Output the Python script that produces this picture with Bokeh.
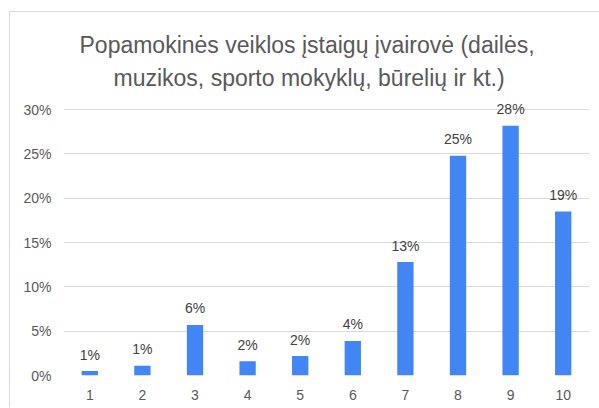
from bokeh.plotting import figure
from bokeh.models import ColumnDataSource, LabelSet, FixedTicker, PrintfTickFormatter, Title, Range1d
from bokeh.core.properties import value
from bokeh.embed import file_html
from bokeh.resources import INLINE

categories = [1, 2, 3, 4, 5, 6, 7, 8, 9, 10]
values = [0.5, 1.1, 5.7, 1.6, 2.2, 3.9, 12.8, 24.8, 28.2, 18.5]
labels = ["1%", "1%", "6%", "2%", "2%", "4%", "13%", "25%", "28%", "19%"]
y_ticks = [0, 5, 10, 15, 20, 25, 30]
title_lines = ["Popamokinės veiklos įstaigų įvairovė (dailės,",
               "muzikos, sporto mokyklų, būrelių ir kt.)"]

FONT = "Liberation Sans"
GRAY = "#595959"

src = ColumnDataSource(data=dict(x=categories, y=values, label=labels))

p = figure(width=590, height=396, output_backend="svg", toolbar_location=None,
           x_range=Range1d(0.5, 10.5), y_range=Range1d(0, 31.6),
           min_border_left=53, min_border_right=11, min_border_bottom=33, min_border_top=83)
p.styles = {"margin-left": "9px", "margin-top": "11px",
            "border-left": "1px solid #d9d9d9", "border-top": "1px solid #d9d9d9"}

p.vbar(x="x", top="y", width=0.31, source=src, fill_color="#4285f4", line_color=None)

p.add_layout(LabelSet(x="x", y="y", text="label", source=src, y_offset=11.5,
                      text_align="center", text_baseline="alphabetic",
                      text_font_size=value("14px"), text_color=value("#404040"),
                      text_font=value(FONT)))

# second line is closest to the frame, then the first line above it
title_offsets = [16, 50]
title_standoffs = [2, 9]
for line, off, so in reversed(list(zip(title_lines, title_offsets, title_standoffs))):
    t = Title(text=line, align="left", text_font_size="23px", text_color=GRAY,
              text_font=FONT, text_font_style="normal", offset=off, standoff=so)
    p.add_layout(t, "above")

p.outline_line_color = None
p.xaxis.ticker = FixedTicker(ticks=categories)
p.yaxis.ticker = FixedTicker(ticks=y_ticks)
p.yaxis.formatter = PrintfTickFormatter(format="%d%%")
for ax in (p.xaxis, p.yaxis):
    ax.axis_line_color = None
    ax.major_tick_line_color = None
    ax.minor_tick_line_color = None
    ax.major_tick_out = 0
    ax.major_tick_in = 0
    ax.major_label_text_font = FONT
    ax.major_label_text_font_size = "14px"
    ax.major_label_text_color = GRAY
p.yaxis.major_label_standoff = 12
p.xaxis.major_label_standoff = 14
p.xgrid.grid_line_color = None
p.ygrid.ticker = FixedTicker(ticks=y_ticks)
p.ygrid.grid_line_color = "#d9d9d9"
p.ygrid.grid_line_width = 1

open("out.html", "w").write(file_html(p, INLINE))
